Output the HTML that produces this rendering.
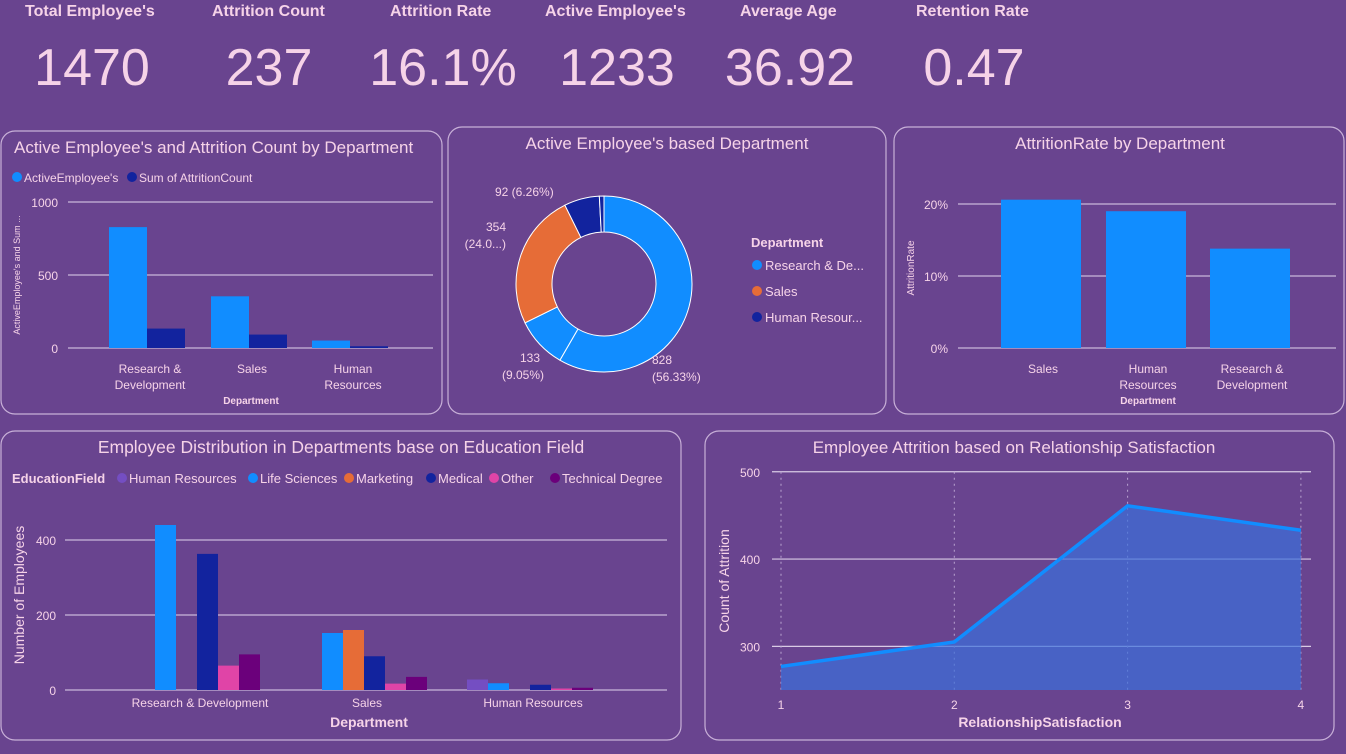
<!DOCTYPE html>
<html><head><meta charset="utf-8"><style>
body{margin:0;width:1346px;height:749px;background:#69448f;overflow:hidden;font-family:"Liberation Sans",sans-serif}
svg text{font-family:"Liberation Sans",sans-serif}
</style></head><body>
<svg id="s" width="1346" height="749" xmlns="http://www.w3.org/2000/svg">
<rect width="1346" height="749" fill="#69448f"/>
</svg>
<script>
// KPI data
const kpiLabels=["Total Employee's","Attrition Count","Attrition Rate","Active Employee's","Average Age","Retention Rate"];
const kpiValues=["1470","237","16.1%","1233","36.92","0.47"];
// Chart 1
const c1Cats=["Research &|Development","Sales","Human|Resources"];
const c1Active=[828,354,51];
const c1Attr=[133,92,12];
const c1Ticks=[0,500,1000];
// Donut
const dLabels=["828","133","354","92","12"];
const dValues=[828,133,354,92,12];
// Chart 3
const c3Cats=["Sales","Human|Resources","Research &|Development"];
const c3Vals=[20.6,19.0,13.8];
const c3Ticks=[0,10,20];
// Chart 4
const c4Cats=["Research & Development","Sales","Human Resources"];
const c4Fields=["Human Resources","Life Sciences","Marketing","Medical","Other","Technical Degree"];
const c4HR=[0,0,28];
const c4LS=[440,152,18];
const c4MK=[0,160,0];
const c4MD=[363,90,14];
const c4OT=[65,17,4];
const c4TD=[95,35,6];
const c4Ticks=[0,200,400];
// Chart 5
const c5Cats=[1,2,3,4];
const c5Vals=[277,305,461,433];
const c5Ticks=[300,400,500];

const S=document.getElementById('s');const NS='http://www.w3.org/2000/svg';
const TXT='#f6d3e8';
function el(tag,attrs,name,par){const e=document.createElementNS(NS,tag);for(const k in attrs)e.setAttribute(k,attrs[k]);


(par||S).appendChild(e);return e;}
function txt(x,y,s,size,name,opt){opt=opt||{};const t=el('text',Object.assign({x:x,y:y,fill:opt.fill||TXT,'font-size':size,'text-anchor':opt.anchor||'start','font-weight':opt.bold?'bold':'normal'},opt.extra||{}),name);t.textContent=s;return t;}
function panel(x,y,w,h,name){el('rect',{x:x,y:y,width:w,height:h,rx:14,fill:'#69448f',stroke:'#c8b0d8','stroke-width':1.2},name);}
const LB='#118dff',DB='#12239e',OR='#e66c37',PK='#e044a7',PU='#6b007b',HP='#744ec2';

// KPIs
const kx=[25,212,390,545,740,916], nx=[92,269,443,617,790,974];
kpiLabels.forEach((l,i)=>{txt(kx[i],16,l,16,'kpi-label',{bold:1});});
kpiValues.forEach((v,i)=>{txt(nx[i],85,v,52,'kpi-value',{anchor:'middle'});});

// Panel 1
panel(1,131,441,283,'panel-active-attrition');
txt(14,153,"Active Employee's and Attrition Count by Department",17,'chart1-title');
el('circle',{cx:17,cy:177,r:5,fill:LB},'legend-active');txt(24,182,"ActiveEmployee's",12,'legend-active-label');
el('circle',{cx:132,cy:177,r:5,fill:DB},'legend-attrition');txt(139,182,"Sum of AttritionCount",12,'legend-attrition-label');
const y1=v=>348-v*0.146;
c1Ticks.forEach(t=>{el('line',{x1:68,x2:433,y1:y1(t),y2:y1(t),stroke:'#c9b6da','stroke-width':1.3},'gridline');txt(58,y1(t)+5,String(t),12,'y-tick',{anchor:'end'});});
const c1cx=[147,249,350];
c1Cats.forEach((c,i)=>{
 el('rect',{x:c1cx[i]-38,y:y1(c1Active[i]),width:38,height:348-y1(c1Active[i]),fill:LB},'bar-active');
 el('rect',{x:c1cx[i],y:y1(c1Attr[i]),width:38,height:348-y1(c1Attr[i]),fill:DB},'bar-attrition');
 c.split('|').forEach((p,j)=>txt(c1cx[i]+3,373+j*16,p,12,'x-tick',{anchor:'middle'}));
});
txt(251,404,'Department',10,'x-axis-title',{anchor:'middle',bold:1});
txt(0,0,"ActiveEmployee's and Sum ...",9,'y-axis-title',{anchor:'middle',extra:{transform:'translate(20,275) rotate(-90)'}});

// Panel 2 donut
panel(448,127,438,287,'panel-donut');
txt(667,149,"Active Employee's based Department",17,'chart2-title',{anchor:'middle'});
const cx=604,cy=284,R=88,r=52;const tot=dValues.reduce((a,b)=>a+b,0);
const dCol=[LB,LB,OR,DB,DB];let a0=0;
dValues.forEach((v,i)=>{const a1=a0+v/tot*2*Math.PI;
 const p=(a,rr)=>[cx+rr*Math.sin(a),cy-rr*Math.cos(a)];
 const [x1,y1_]=p(a0,R),[x2,y2]=p(a1,R),[x3,y3]=p(a1,r),[x4,y4]=p(a0,r);const lg=(a1-a0)>Math.PI?1:0;
 el('path',{d:`M${x1},${y1_}A${R},${R} 0 ${lg} 1 ${x2},${y2}L${x3},${y3}A${r},${r} 0 ${lg} 0 ${x4},${y4}Z`,fill:dCol[i],stroke:'#fff','stroke-width':1},'donut-slice');
 a0=a1;});
txt(652,364,'828',12,'donut-label');txt(652,381,'(56.33%)',12,'donut-label');
txt(540,362,'133',12,'donut-label',{anchor:'end'});txt(544,379,'(9.05%)',12,'donut-label',{anchor:'end'});
txt(506,231,'354',12,'donut-label',{anchor:'end'});txt(506,248,'(24.0...)',12,'donut-label',{anchor:'end'});
txt(495,196,'92 (6.26%)',12,'donut-label');
txt(751,247,'Department',13,'legend-title',{bold:1});
[['Research & De...',LB],['Sales',OR],['Human Resour...',DB]].forEach((d,i)=>{el('circle',{cx:757,cy:265+i*26,r:5,fill:d[1]},'legend-dot');txt(765,270+i*26,d[0],13,'legend-label');});

// Panel 3
panel(894,127,450,287,'panel-attrition-rate');
txt(1120,149,'AttritionRate by Department',17,'chart3-title',{anchor:'middle'});
const y3=v=>348-v*7.2;
c3Ticks.forEach(t=>{el('line',{x1:958,x2:1336,y1:y3(t),y2:y3(t),stroke:'#c9b6da','stroke-width':1.3},'gridline');txt(948,y3(t)+5,t+'%',12,'y-tick',{anchor:'end'});});
const c3cx=[1041,1146,1250];
c3Cats.forEach((c,i)=>{el('rect',{x:c3cx[i]-40,y:y3(c3Vals[i]),width:80,height:348-y3(c3Vals[i]),fill:LB},'bar-rate');
 c.split('|').forEach((p,j)=>txt(c3cx[i]+2,373+j*16,p,12,'x-tick',{anchor:'middle'}));});
txt(1148,404,'Department',10,'x-axis-title',{anchor:'middle',bold:1});
txt(0,0,'AttritionRate',10,'y-axis-title',{anchor:'middle',extra:{transform:'translate(914,268) rotate(-90)'}});

// Panel 4
panel(1,431,680,309,'panel-education');
txt(341,453,'Employee Distribution in Departments base on Education Field',17.5,'chart4-title',{anchor:'middle'});
txt(12,483,'EducationField',13,'legend-title',{bold:1});
const fCol=[HP,LB,OR,DB,PK,PU];const lx=[122,253,349,431,494,555];
c4Fields.forEach((f,i)=>{el('circle',{cx:lx[i],cy:478,r:5,fill:fCol[i]},'legend-dot');txt(lx[i]+7,483,f,13,'legend-label');});
const y4=v=>690-v*0.375;
c4Ticks.forEach(t=>{el('line',{x1:65,x2:667,y1:y4(t),y2:y4(t),stroke:'#c9b6da','stroke-width':1.3},'gridline');txt(56,y4(t)+5,String(t),12,'y-tick',{anchor:'end'});});
const series=[c4HR,c4LS,c4MK,c4MD,c4OT,c4TD];const c4cx=[197,364,530];
c4Cats.forEach((c,i)=>{series.forEach((s,k)=>{const x=c4cx[i]-63+k*21;el('rect',{x:x,y:y4(s[i]),width:21,height:690-y4(s[i]),fill:fCol[k]},'bar-education');});
 txt(c4cx[i]+3,707,c,12,'x-tick',{anchor:'middle'});});
txt(369,727,'Department',14,'x-axis-title',{anchor:'middle',bold:1});
txt(0,0,'Number of Employees',14,'y-axis-title',{anchor:'middle',extra:{transform:'translate(24,595) rotate(-90)'}});

// Panel 5
panel(705,431,629,309,'panel-relationship');
txt(1014,453,'Employee Attrition based on Relationship Satisfaction',17,'chart5-title',{anchor:'middle'});
const x5=v=>781+(v-1)*173.3, y5=v=>690-(v-250)*0.873;
c5Ticks.forEach(t=>{el('line',{x1:772,x2:1311,y1:y5(t),y2:y5(t),stroke:'#d9cbe5','stroke-width':1.2},'gridline');txt(760,y5(t)+5,String(t),12,'y-tick',{anchor:'end'});});
c5Cats.forEach(c=>{el('line',{x1:x5(c),x2:x5(c),y1:y5(500),y2:690,stroke:'#b9a4d0','stroke-width':1,'stroke-dasharray':'2,4'},'vgrid');txt(x5(c),709,String(c),12,'x-tick',{anchor:'middle'});});
let pts=c5Cats.map((c,i)=>x5(c)+','+y5(c5Vals[i])).join(' ');
el('polygon',{points:x5(1)+',690 '+pts+' '+x5(4)+',690',fill:'#3a6fdc','fill-opacity':0.7},'area-fill');
el('polyline',{points:pts,fill:'none',stroke:LB,'stroke-width':3.5},'attrition-line');
txt(1040,727,'RelationshipSatisfaction',14,'x-axis-title',{anchor:'middle',bold:1});
txt(0,0,'Count of Attrition',14,'y-axis-title',{anchor:'middle',extra:{transform:'translate(729,581) rotate(-90)'}});
</script>
</body></html>
